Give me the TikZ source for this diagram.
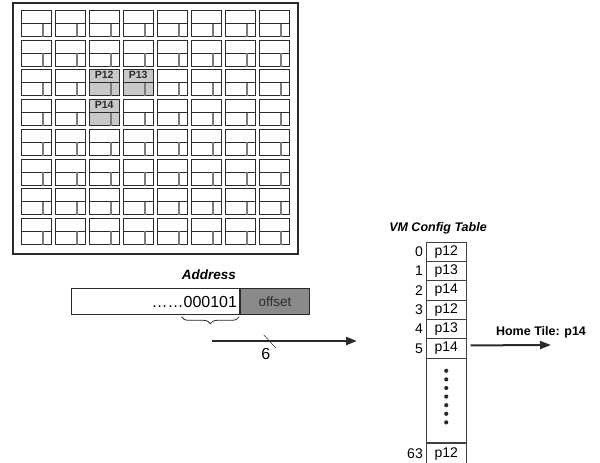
\documentclass[tikz,border=0pt]{standalone}
\usepackage{fontspec}
\setmainfont{Liberation Sans}
\usetikzlibrary{arrows.meta,positioning,backgrounds,decorations.pathreplacing}
\definecolor{inkdark}{HTML}{2B2B2B}
\definecolor{tilediv}{HTML}{7A7A7A}
\definecolor{hometile}{HTML}{C8C8C8}
\definecolor{offsetgr}{HTML}{8A8A8A}
\newcommand{\fsz}[1]{\fontsize{#1pt}{#1pt}\selectfont}

\begin{document}
\begin{tikzpicture}[x=1pt,y=-1pt,
  frame/.style={draw=inkdark,line width=2.4pt,minimum width=285pt,minimum height=251pt,inner sep=0pt,anchor=north west},
  tile/.style={draw=inkdark,line width=1pt,minimum width=30pt,minimum height=26pt,inner sep=0pt,anchor=north west},
  tilelbl/.style={font=\fsz{10.5}\bfseries,color=inkdark,inner sep=0pt,anchor=north},
  addrbox/.style={draw=inkdark,line width=0.8pt,minimum height=25.7pt,inner sep=0pt,anchor=north west},
  rowbox/.style={draw=inkdark!90,line width=0.8pt,minimum width=39.7pt,inner sep=0pt,anchor=north west,font=\fsz{14}},
  rowno/.style={font=\fsz{14},inner sep=0pt},
  title/.style={font=\fsz{12.5}\bfseries\itshape},
  bus/.style={-{Triangle[length=11pt,width=8pt]},line width=2.2pt,color=inkdark}]
  \useasboundingbox (0,0) rectangle (600,463);
  % chip of 8x8 tiles
  \node[frame] (chip) at (12,2) {};
  \foreach \c in {0,...,7}
    \foreach \r in {0,...,7} {
      \node[tile] (t\c\r) at (20.7+34*\c,10+29.7*\r) {};
      \draw[inkdark,line width=1pt] (t\c\r.west) -- (t\c\r.east);
      \draw[tilediv,line width=1.8pt] ([xshift=6.6pt]t\c\r.south) -- ([xshift=6.6pt]t\c\r.center);
    }
  \begin{scope}[on background layer]
    \foreach \c/\r in {2/2,3/2,2/3}
      \fill[hometile] (t\c\r.north west) rectangle (t\c\r.south east);
  \end{scope}
  \foreach \c/\r/\p in {2/2/P12,3/2/P13,2/3/P14}
    \node[tilelbl] (lbl\c\r) at ([yshift=-2pt]t\c\r.north) {\p};
  % address
  \node[font=\fsz{13.5}\bfseries\itshape] (addrlbl) at (209,275) {Address};
  \node[addrbox,minimum width=168.3pt,text width=163pt,align=right,font=\fsz{16}] (addr) at (71,288.3) {……000101};
  \node[addrbox,fill=offsetgr,minimum width=69pt,anchor=west,font=\fsz{13.5},text=inkdark] (offs) at (addr.east) {offset};
  \draw[decorate,decoration={brace,mirror,amplitude=7pt},inkdark,line width=0.8pt]
    ([xshift=-58.6pt,yshift=-2pt]addr.south east) -- ([xshift=-1pt,yshift=-2pt]addr.south east);
  \coordinate (bitsin) at (211.7,341);
  \coordinate (tblin) at (357,341);
  \draw[bus] (bitsin) -- coordinate[pos=0.4] (buswidth) (tblin);
  \draw[inkdark,line width=0.5pt] ([shift={(-6,-6)}]buswidth) -- ([shift={(6,7)}]buswidth);
  \node[font=\fsz{16}] (buswd) at ([xshift=-4pt,yshift=-13pt]buswidth) {6};
  % VM config table
  \node[title] (tbltitle) at (438,228) {VM Config Table};
  \foreach \i/\p in {0/p12,1/p13,2/p14,3/p12,4/p13,5/p14}
    \node[rowbox,minimum height=19.33pt,label={[rowno,label distance=3pt]left:\i}] (r\i) at (426,241.7+19.33*\i) {\p};
  \node[rowbox,minimum height=84pt,anchor=north] (rdots) at (r5.south) {};
  \node[rowbox,minimum height=20pt,anchor=north,label={[rowno,label distance=3pt]left:63}] (r63) at (rdots.south) {p12};
  \foreach \k in {0,...,6}
    \fill[inkdark] ([yshift=-12.3pt-8.6pt*\k]rdots.north) circle (2.1);
  % home tile
  \coordinate (homeend) at (551,345);
  \draw[bus,line width=2pt] ([xshift=4pt,yshift=3pt]r5.east) -- (homeend);
  \node[font=\fsz{12.5}\bfseries] (homelbl) at (541,332) {Home Tile: p14};
\end{tikzpicture}
\end{document}
